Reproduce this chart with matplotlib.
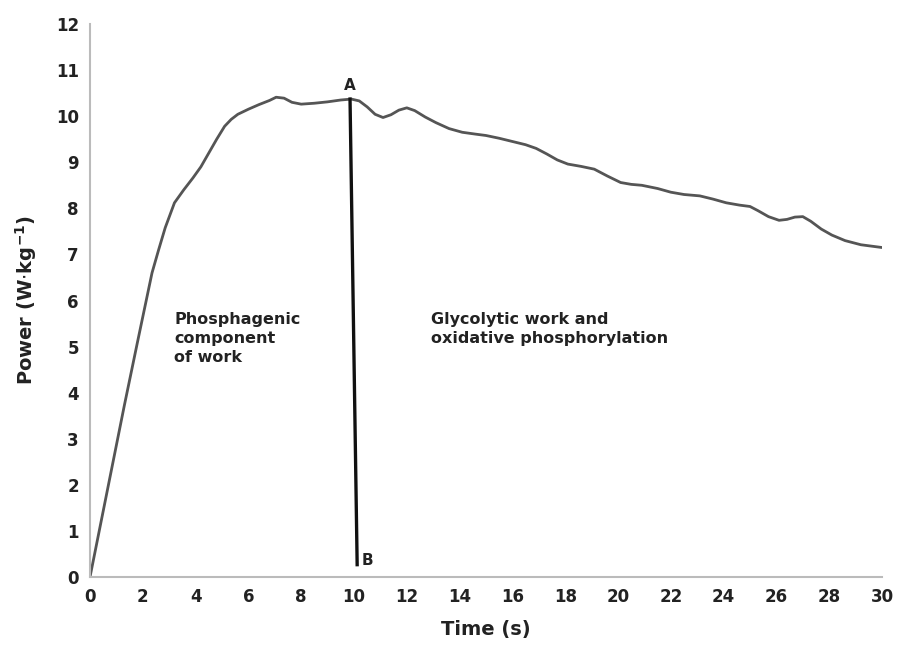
import matplotlib.pyplot as plt

# power curve
time_s = [0, 1.3, 1.8, 2.35, 2.6, 2.85, 3.2, 3.55, 3.9, 4.2, 4.5, 4.8, 5.1, 5.35, 5.6, 6.0,
          6.4, 6.8, 7.05, 7.35, 7.65, 8.0, 8.5, 9.0, 9.5, 9.9, 10.2, 10.5,
          10.8, 11.1, 11.4, 11.7, 12.0, 12.3, 12.7, 13.1, 13.6, 14.1, 14.6, 15.0,
          15.5, 16.0, 16.5, 16.9, 17.3, 17.7, 18.1, 18.6, 19.1, 19.6, 20.1, 20.5,
          20.9, 21.5, 22.0, 22.5, 23.1, 23.6, 24.1, 24.6, 25.0, 25.3, 25.7, 26.1,
          26.4, 26.7, 27.0, 27.3, 27.7, 28.1, 28.6, 29.2, 29.6, 30.0]
power = [0, 3.72, 5.1, 6.6, 7.1, 7.58, 8.12, 8.4, 8.66, 8.9, 9.2, 9.5, 9.78, 9.93, 10.04, 10.15,
         10.25, 10.34, 10.41, 10.39, 10.3, 10.26, 10.28, 10.31, 10.35, 10.37, 10.33, 10.2,
         10.04, 9.97, 10.03, 10.13, 10.18, 10.12, 9.98, 9.86, 9.73, 9.65, 9.61, 9.58,
         9.52, 9.45, 9.38, 9.3, 9.18, 9.05, 8.96, 8.91, 8.85, 8.7, 8.56, 8.52,
         8.5, 8.43, 8.35, 8.3, 8.27, 8.2, 8.12, 8.07, 8.04, 7.95, 7.82, 7.74,
         7.76, 7.81, 7.82, 7.72, 7.55, 7.42, 7.3, 7.21, 7.18, 7.15]

line_ab_x = [9.85, 10.12]
line_ab_y = [10.37, 0.27]

x_ticks = list(range(0, 31, 2))
y_ticks = list(range(0, 13))

fig = plt.figure(figsize=(8.98, 6.47), dpi=100)
ax = fig.add_axes([0.1002, 0.108, 0.882, 0.855])

ax.plot(time_s, power, color="#555555", lw=2.0, solid_joinstyle="round")
ax.plot(line_ab_x, line_ab_y, color="#111111", lw=2.4)

ax.text(9.85, 10.5, "A", fontsize=11, fontweight="bold", ha="center", va="bottom", color="#222222")
ax.text(10.3, 0.2, "B", fontsize=11, fontweight="bold", ha="left", va="bottom", color="#222222")

ax.text(3.2, 5.75, "Phosphagenic\ncomponent\nof work", fontsize=11.5, fontweight="bold",
        va="top", ha="left", color="#222222", linespacing=1.35)
ax.text(12.9, 5.75, "Glycolytic work and\noxidative phosphorylation", fontsize=11.5,
        fontweight="bold", va="top", ha="left", color="#222222", linespacing=1.35)

ax.set_xlim(0, 30)
ax.set_ylim(0, 12)
ax.set_xticks(x_ticks)
ax.set_yticks(y_ticks)
ax.tick_params(length=0, labelsize=12, pad=8)
for lab in ax.get_xticklabels() + ax.get_yticklabels():
    lab.set_fontweight("bold")
    lab.set_color("#222222")

for side in ["top", "right"]:
    ax.spines[side].set_visible(False)
for side in ["left", "bottom"]:
    ax.spines[side].set_color("#bbbbbb")
    ax.spines[side].set_linewidth(1.5)

ax.set_xlabel("Time (s)", fontsize=14, fontweight="bold", color="#222222", labelpad=10)
ax.set_ylabel(r"Power (W$\cdot$kg$^{\mathbf{-1}}$)", fontsize=14, fontweight="bold",
              color="#222222", labelpad=12)

fig.savefig("out.png", dpi=100)
